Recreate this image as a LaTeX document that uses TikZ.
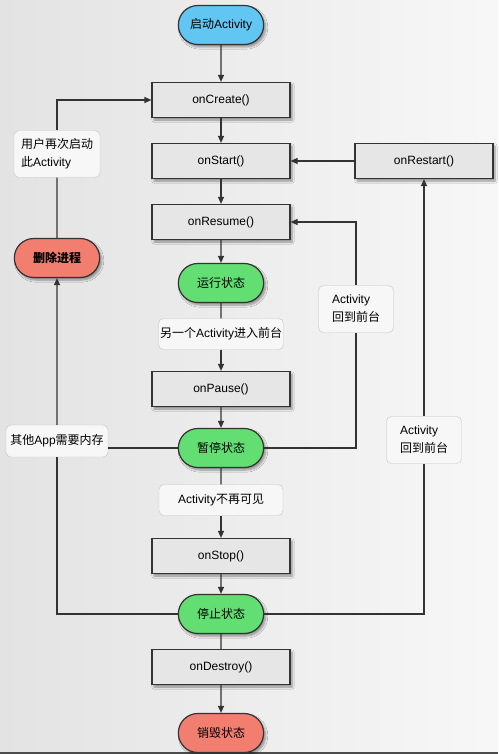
\documentclass[tikz,border=0pt]{standalone}
\usepackage{fontspec}
\setmainfont{Liberation Sans}
\newfontfamily\cjk{Noto Sans CJK SC}
\usetikzlibrary{shapes.misc,arrows.meta,shadows.blur}
\definecolor{linegray}{HTML}{333333}
\definecolor{boxgray}{HTML}{E6E6E6}
\definecolor{taggray}{HTML}{C4C4C4}
\definecolor{tagfill}{HTML}{F7F7F7}
\definecolor{stateblue}{HTML}{62C6F2}
\definecolor{stategreen}{HTML}{62DE72}
\definecolor{statered}{HTML}{F27E70}

\begin{document}
\begin{tikzpicture}[x=1pt, y=-1pt,
  call/.style={rectangle, draw=linegray, line width=1.2pt, fill=boxgray, minimum width=138pt, minimum height=35pt, font=\fontsize{12}{14}\selectfont,
    blur shadow={shadow blur steps=6, shadow xshift=2pt, shadow yshift=-2.5pt}},
  state/.style={rounded rectangle, draw=linegray, line width=1.2pt, fill=#1, minimum width=92pt, minimum height=39pt, font=\cjk\fontsize{12}{14}\selectfont,
    blur shadow={shadow blur steps=6, shadow xshift=2pt, shadow yshift=-2.5pt}},
  tag/.style={rectangle, rounded corners=5pt, draw=taggray, fill=tagfill, align=left, inner sep=1.5pt, font=\fontsize{12}{18}\selectfont},
  arr/.style={-{Triangle[length=7pt, width=6pt]}, line width=1.2pt, linegray},
  link/.style={line width=1.2pt, linegray}
]
  \useasboundingbox (0,0) rectangle (498,754);
  \shade[left color=black!11, right color=black!3] (0,0) rectangle (498,754);
  \fill[black!70] (0,752) rectangle (498,754);

  % main column
  \node[state=stateblue] (launch) at (221,25) {启动{\rmfamily Activity}};
  \node[call] (create) at (221,100) {onCreate()};
  \node[call] (start) at (221,161) {onStart()};
  \node[call] (restart) at (424,161) {onRestart()};
  \node[call] (resume) at (221,222) {onResume()};
  \node[state=stategreen] (running) at (221,283) {运行状态};
  \node[tag, minimum width=124pt, minimum height=31pt, align=center] (other) at (221,334) {{\cjk 另一个}Activity{\cjk 进入前台}};
  \node[call] (pause) at (221,389) {onPause()};
  \node[state=stategreen] (paused) at (221,448) {暂停状态};
  \node[tag, minimum width=124pt, minimum height=31pt, align=center] (hidden) at (221,500) {Activity{\cjk 不再可见}};
  \node[call] (stop) at (221,556) {onStop()};
  \node[state=stategreen] (stopped) at (221,614) {停止状态};
  \node[call] (destroy) at (221,667) {onDestroy()};
  \node[state=statered] (destroyed) at (221,733) {销毁状态};

  % side branches
  \node[state=statered, font=\cjk\bfseries\fontsize{12}{14}\selectfont] (kill) at (57,258) {删除进程};
  \node[tag, minimum width=86pt, minimum height=47pt] (relaunch) at (57,154) {{\cjk 用户再次启动}\\{\cjk 此}Activity};
  \node[tag, minimum width=102pt, minimum height=32pt, align=center] (memory) at (57,441) {{\cjk 其他}App{\cjk 需要内存}};
  \node[tag, minimum width=75pt, minimum height=47pt] (backA) at (356,309) {Activity\\{\cjk 回到前台}};
  \node[tag, minimum width=75pt, minimum height=47pt] (backB) at (424,440) {Activity\\{\cjk 回到前台}};

  \draw[arr] (launch) -- (create);
  \draw[arr] (create) -- (start);
  \draw[arr] (start) -- (resume);
  \draw[arr] (resume) -- (running);
  \draw[link] (running) -- (other);
  \draw[arr] (other) -- (pause);
  \draw[arr] (pause) -- (paused);
  \draw[link] (paused) -- (hidden);
  \draw[arr] (hidden) -- (stop);
  \draw[arr] (stop) -- (stopped);
  \draw[link] (stopped) -- (destroy);
  \draw[arr] (destroy) -- (destroyed);

  \draw[arr] (restart) -- (start);
  \draw[link] (stopped.east) -| (backB);
  \draw[arr] (backB) -- (restart);
  \draw[link] (paused.east) -| (backA);
  \draw[arr] (backA) |- (resume.east);
  \draw[link] (paused.west) -- (paused.west -| memory.east);
  \draw[link] (stopped.west) -| (memory);
  \draw[arr] (memory) -- (kill);
  \draw[link] (kill) -- (relaunch);
  \draw[arr] (relaunch) |- (create.west);
\end{tikzpicture}
\end{document}
